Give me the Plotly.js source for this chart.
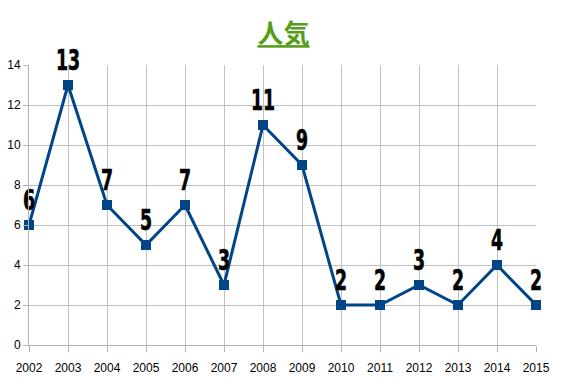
<!DOCTYPE html>
<html><head><meta charset="utf-8">
<script src="https://cdn.plot.ly/plotly-3.0.1.min.js"></script>
<style>html,body{margin:0;padding:0;background:#fff;}</style>
</head><body><div id="chart" style="width:567px;height:378px;"></div>
<script>
const years = ['2002','2003','2004','2005','2006','2007','2008','2009','2010','2011','2012','2013','2014','2015'];
const values = [6,13,7,5,7,3,11,9,2,2,3,2,4,2];
const yTicks = [0,2,4,6,8,10,12,14];
const titleText = '人気';

Plotly.newPlot('chart', [{
  x: years.map(Number), y: values, type: 'scatter', mode: 'lines+markers+text',
  text: values.map(String), textposition: 'top center',
  textfont: {family: 'DejaVu Sans, sans-serif', size: 28, color: '#000', weight: 'bold'},
  line: {color: '#004586', width: 3},
  marker: {symbol: 'square', size: 10, color: '#004586'},
  cliponaxis: false, hoverinfo: 'none'
}], {
  width: 567, height: 378,
  margin: {l: 29, r: 31, t: 65, b: 33},
  paper_bgcolor: '#fff', plot_bgcolor: '#fff',
  showlegend: false,
  title: {text: '<u>' + titleText + '</u>', x: 0.5, xanchor: 'center', y: 0.91, yanchor: 'middle',
    font: {family: 'Noto Sans CJK JP, sans-serif', size: 26, color: '#579d1c', weight: 'bold'}},
  xaxis: {range: [2002, 2015], tickvals: years.map(Number), ticktext: years,
    showgrid: true, gridcolor: '#c0c0c0', gridwidth: 1,
    showline: true, linecolor: '#b3b3b3', ticks: 'outside', ticklen: 6, tickcolor: '#b3b3b3',
    ticklabelstandoff: 6,
    tickfont: {family: 'Liberation Sans, Arial, sans-serif', size: 12, color: '#000'}, zeroline: false, mirror: false},
  yaxis: {range: [0, 14], tickvals: yTicks, showgrid: true, gridcolor: '#c0c0c0', gridwidth: 1,
    showline: true, linecolor: '#b3b3b3', ticks: 'outside', ticklen: 5, tickcolor: '#b3b3b3',
    tickfont: {family: 'Liberation Sans, Arial, sans-serif', size: 12, color: '#000'}, zeroline: false}
}, {displayModeBar: false, staticPlot: true}).then(function(gd){
  gd.querySelectorAll('.textpoint text').forEach(function(t){
    var x = parseFloat(t.getAttribute('x'));
    var y = parseFloat(t.getAttribute('y'));
    t.setAttribute('transform', 'translate(' + x + ',' + (y-1) + ') scale(0.62,1) translate(' + (-x) + ',' + (-y) + ')');
    t.setAttribute('stroke', '#000');
    t.setAttribute('stroke-width', '0.6');
  });
});
</script></body></html>
